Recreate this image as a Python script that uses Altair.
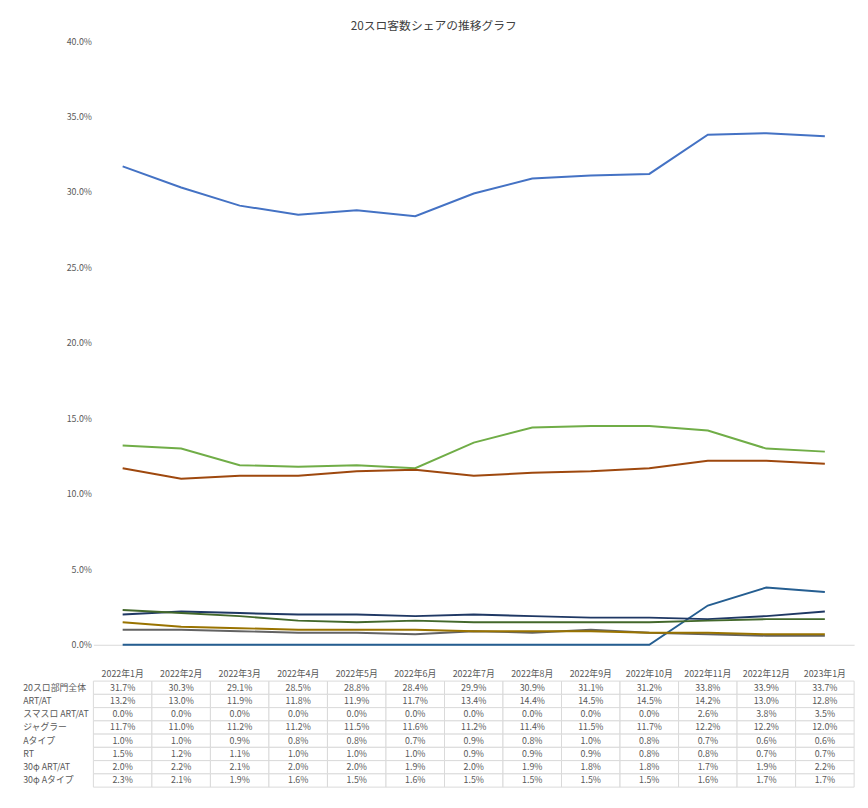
import altair as alt
import pandas as pd

months = ["2022年1月", "2022年2月", "2022年3月", "2022年4月", "2022年5月", "2022年6月", "2022年7月",
          "2022年8月", "2022年9月", "2022年10月", "2022年11月", "2022年12月", "2023年1月"]
series = ["20スロ部門全体", "ART/AT", "スマスロ ART/AT", "ジャグラー", "Aタイプ", "RT", "30φ ART/AT", "30φ Aタイプ"]
colors = ["#4472C4", "#70AD47", "#255E91", "#9E480E", "#636363", "#997300", "#1F3864", "#43682B"]

total = [31.7, 30.3, 29.1, 28.5, 28.8, 28.4, 29.9, 30.9, 31.1, 31.2, 33.8, 33.9, 33.7]
art_at = [13.2, 13.0, 11.9, 11.8, 11.9, 11.7, 13.4, 14.4, 14.5, 14.5, 14.2, 13.0, 12.8]
smasuro = [0.0, 0.0, 0.0, 0.0, 0.0, 0.0, 0.0, 0.0, 0.0, 0.0, 2.6, 3.8, 3.5]
juggler = [11.7, 11.0, 11.2, 11.2, 11.5, 11.6, 11.2, 11.4, 11.5, 11.7, 12.2, 12.2, 12.0]
a_type = [1.0, 1.0, 0.9, 0.8, 0.8, 0.7, 0.9, 0.8, 1.0, 0.8, 0.7, 0.6, 0.6]
rt = [1.5, 1.2, 1.1, 1.0, 1.0, 1.0, 0.9, 0.9, 0.9, 0.8, 0.8, 0.7, 0.7]
p30_art = [2.0, 2.2, 2.1, 2.0, 2.0, 1.9, 2.0, 1.9, 1.8, 1.8, 1.7, 1.9, 2.2]
p30_a = [2.3, 2.1, 1.9, 1.6, 1.5, 1.6, 1.5, 1.5, 1.5, 1.5, 1.6, 1.7, 1.7]

values = [total, art_at, smasuro, juggler, a_type, rt, p30_art, p30_a]
rows = []
for name, vals in zip(series, values):
    for m, v in zip(months, vals):
        rows.append({"month": m, "series": name, "share": v / 100, "label": f"{v:.1f}%"})
df = pd.DataFrame(rows)

FONT = "Noto Sans CJK JP"
W = 775
EXT = 82
color = alt.Color("series:N", scale=alt.Scale(domain=series, range=colors),
                  legend=alt.Legend(title=None, orient="bottom", direction="horizontal",
                                    symbolType="stroke", symbolStrokeWidth=2, symbolSize=300,
                                    labelFontSize=9, labelColor="#595959", columnPadding=18))

lines = alt.Chart(df).mark_line(strokeWidth=2).encode(
    x=alt.X("month:N", sort=months, title=None, scale=alt.Scale(type="point", padding=0.5),
            axis=alt.Axis(labels=False, ticks=False, domainColor="#d9d9d9", grid=False)),
    y=alt.Y("share:Q", title=None, scale=alt.Scale(domain=[0, 0.4]),
            axis=alt.Axis(format=".1%", values=[i * 0.05 for i in range(9)], grid=False, domain=False,
                          ticks=False, labelFontSize=9, labelColor="#595959",
                          minExtent=EXT, maxExtent=EXT)),
    color=color,
).properties(width=W, height=615)

cells = alt.Chart(df).mark_rect(fill="white", stroke="#d9d9d9").encode(
    x=alt.X("month:N", sort=months, title=None,
            axis=alt.Axis(orient="top", labelAngle=0, ticks=False, domain=False, labelPadding=3,
                          labelFontSize=9, labelColor="#595959")),
    y=alt.Y("series:N", sort=series, title=None,
            axis=alt.Axis(labelAlign="left", labelPadding=72, ticks=False, domain=False,
                          labelFontSize=9, labelColor="#595959", minExtent=EXT, maxExtent=EXT)),
)
texts = alt.Chart(df).mark_text(fontSize=9, color="#595959").encode(
    x=alt.X("month:N", sort=months),
    y=alt.Y("series:N", sort=series),
    text="label:N",
)
swatch = alt.Chart(df).mark_tick(opacity=0).encode(
    x=alt.X("month:N", sort=months), y=alt.Y("series:N", sort=series), color=color)
table = alt.layer(cells, texts, swatch).properties(width=W, height=108)

chart = alt.vconcat(lines, table, spacing=20).resolve_scale(color="shared").resolve_legend(
    color="shared").properties(
    title=alt.TitleParams("20スロ客数シェアの推移グラフ", fontSize=12, fontWeight="normal",
                          color="#404040", anchor="middle")
).configure(font=FONT).configure_view(stroke=None)

chart.save("out.html", embed_options={"renderer": "svg", "actions": False})
